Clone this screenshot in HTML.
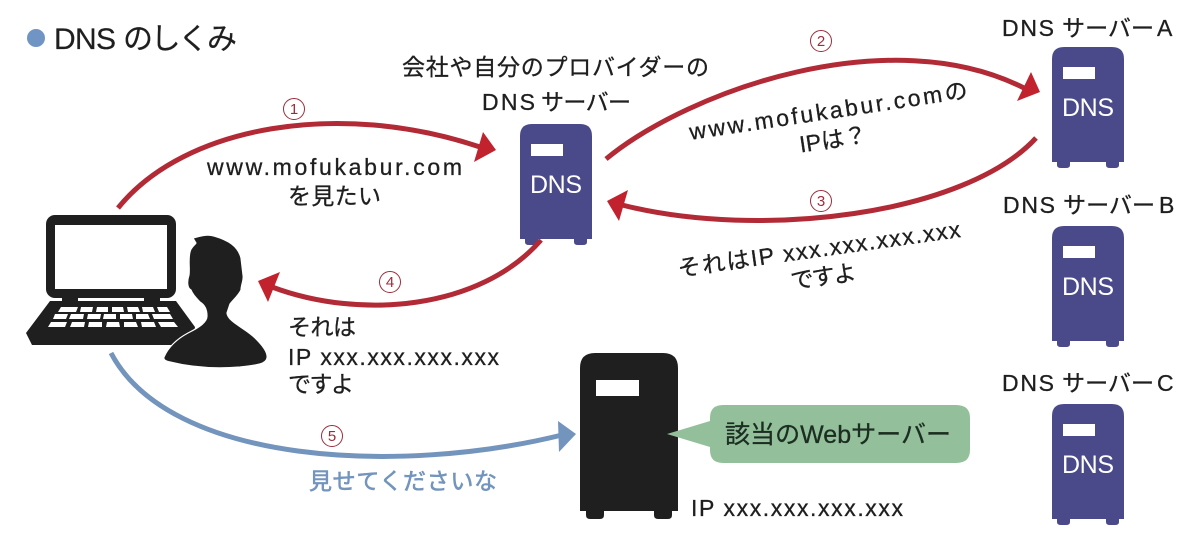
<!DOCTYPE html>
<html lang="ja"><head><meta charset="utf-8"><title>DNSのしくみ</title>
<style>
html,body{margin:0;padding:0;background:#fff;width:1200px;height:535px;overflow:hidden}
svg{display:block}
text{font-family:"Liberation Sans","Noto Sans CJK JP",sans-serif;fill:#1f1f1f}
.l{font-size:23px;stroke:#1f1f1f;stroke-width:.3px}
.n{font-size:15px;fill:#9c2c3c;text-anchor:middle}
.d{font-size:25px;fill:#fff;text-anchor:start}
</style></head><body>
<svg width="1200" height="535" viewBox="0 0 1200 535" xmlns="http://www.w3.org/2000/svg">
<defs>
<g id="srv">
<path d="M0 115V12Q0 0 12 0H60Q72 0 72 12V115H67V118Q67 121 63 121H58Q54 121 54 118V115H18V118Q18 121 14 121H9Q5 121 5 118V115Z" fill="#4a4a8a"/>
<rect x="11" y="20" width="32" height="12" fill="#fff"/>
<text class="d" x="10" y="69" textLength="52">DNS</text>
</g>
</defs>

<circle cx="36" cy="38" r="9" fill="#7095c4"/>
<text x="54" y="49" font-size="30" textLength="62" style="stroke:#1f1f1f;stroke-width:.2px">DNS</text>
<text x="123" y="49" font-size="30" textLength="114" style="stroke:#1f1f1f;stroke-width:.2px">のしくみ</text>

<!-- laptop -->
<rect x="46" y="215" width="130" height="83" rx="9" fill="#1f1f1f"/>
<rect x="55" y="225" width="112" height="64" fill="#fff"/>
<path d="M62 298H160V301H176L195 327 192 345H32L26 333 50 301H62Z" fill="#1f1f1f"/>
<rect x="78" y="298" width="66" height="3" fill="#fff"/>
<g fill="#fff">
<path d="M61 307H78L76 312H58ZM81 307H93L92 312H80ZM97 307H108L108 312H96ZM112 307H123L124 312H112ZM127 307H138L140 312H128ZM142 307H153L155 312H143ZM157 307H167L170 312H159Z"/>
<path d="M55 314H68L66 319H53ZM71 314H84L83 319H69ZM88 314H101L100 319H87ZM104 314H116L116 319H103ZM120 314H132L133 319H120ZM136 314H148L150 319H136ZM152 314H170L173 319H154Z"/>
<path d="M51 322H67L65 327H48ZM72 322H85L84 327H70ZM89 322H102L102 327H88ZM107 322H119L120 327H106ZM124 322H136L138 327H124ZM141 322H154L156 327H142ZM158 322H174L178 327H161Z"/>
</g>
<!-- person -->
<path d="M193 238C200 236 207 234 214 236C228 240 238 246 241 258L243 275C244 280 241 285 241 290C238 296 233 300 230 304L227 313C228 322 245 328 255 338C262 345 268 352 267 358C266 364 258 365 240 367C215 369 190 367 170 362C166 361 163 360 164 357C168 348 175 340 188 333C200 327 207 322 207 316C207 310 205 305 200 302C195 297 192 293 191 290C187 288 187 281 189 275C190 268 188 260 190 252C191 247 195 245 196 243Z" fill="#1f1f1f" stroke="#fff" stroke-width="1.2" stroke-linejoin="round"/>

<!-- servers -->
<use href="#srv" x="520" y="124"/>
<use href="#srv" x="1052" y="47"/>
<use href="#srv" x="1052" y="226"/>
<use href="#srv" x="1052" y="404"/>

<!-- connectors -->
<g fill="none" stroke-width="5">
<path d="M118 208C185 125 340 100 480 147" stroke="#b12a35"/>
<path d="M606 159C690 90 890 20 1024 88" stroke="#b12a35"/>
<path d="M1036 138C965 215 760 240 622 205" stroke="#b12a35"/>
<path d="M541 240C480 310 360 320 272 287" stroke="#b12a35"/>
<path d="M111 353C170 465 400 475 562 435" stroke="#7394bd"/>
</g>
<path d="M496 150 483 132 474 162Z" fill="#c1222e"/>
<path d="M1040 92 1031 72 1017 101Z" fill="#c1222e"/>
<path d="M607 201 628 190 619 221Z" fill="#c1222e"/>
<path d="M258 281 280 272 268 302Z" fill="#c1222e"/>
<path d="M576 434 558 421 559 452Z" fill="#7394bd"/>

<!-- step numbers -->
<g fill="none" stroke="#9c2c3c" stroke-width="1">
<circle cx="294" cy="109" r="10.5"/><circle cx="821" cy="41" r="10.5"/><circle cx="821" cy="201" r="10.5"/><circle cx="390" cy="282" r="10.5"/><circle cx="332" cy="436" r="10.5"/>
</g>
<text class="n" x="294" y="114">1</text>
<text class="n" x="821" y="46">2</text>
<text class="n" x="821" y="206">3</text>
<text class="n" x="390" y="287">4</text>
<text class="n" x="332" y="441">5</text>

<!-- labels -->
<text class="l" x="207" y="175" textLength="255">www.mofukabur.com</text>
<text class="l" x="288" y="204" textLength="93">を見たい</text>
<text class="l" x="402" y="75" textLength="307">会社や自分のプロバイダーの</text>
<text class="l" x="482" y="110" textLength="53">DNS</text>
<text class="l" x="541" y="110" textLength="90">サーバー</text>
<g transform="rotate(-8.6 828 112)">
<text class="l" x="688" y="119" textLength="281">www.mofukabur.comの</text>
<text class="l" x="795" y="148" textLength="68">IPは？</text>
</g>
<g transform="rotate(-8 818 245)">
<text class="l" x="676" y="257" textLength="285">それはIP xxx.xxx.xxx.xxx</text>
<text class="l" x="786" y="285" textLength="66">ですよ</text>
</g>
<text class="l" x="288" y="335" textLength="68">それは</text>
<text class="l" x="288" y="365" textLength="211">IP xxx.xxx.xxx.xxx</text>
<text class="l" x="288" y="392" textLength="66">ですよ</text>
<text class="l" x="309" y="489" textLength="188" style="fill:#7394bd;stroke:#7394bd;stroke-width:.6px">見せてくださいな</text>
<text class="l" x="691" y="516" textLength="212">IP xxx.xxx.xxx.xxx</text>

<text class="l" x="1002" y="36" textLength="52">DNS</text>
<text class="l" x="1062" y="36" textLength="92">サーバー</text>
<text class="l" x="1157" y="36" textLength="16">A</text>
<text class="l" x="1003" y="213" textLength="52">DNS</text>
<text class="l" x="1063" y="213" textLength="92">サーバー</text>
<text class="l" x="1159" y="213" textLength="15">B</text>
<text class="l" x="1002" y="391" textLength="52">DNS</text>
<text class="l" x="1062" y="391" textLength="92">サーバー</text>
<text class="l" x="1157" y="391" textLength="17">C</text>

<!-- web server -->
<path d="M580 511V368Q580 353 595 353H663Q678 353 678 368V511H672V515Q672 519 668 519H658Q654 519 654 515V511H604V515Q604 519 600 519H590Q586 519 586 515V511Z" fill="#1f1f1f"/>
<rect x="596" y="380" width="43" height="16" fill="#fff"/>

<!-- bubble -->
<path d="M667 434 710 421V418Q710 405 723 405H956Q970 405 970 418V450Q970 463 956 463H723Q710 463 710 450V447Z" fill="#93c09a"/>
<text x="725" y="443" font-size="25" textLength="226" style="fill:#1c2e22;stroke:#1c2e22;stroke-width:.3px">該当のWebサーバー</text>
</svg>
</body></html>
